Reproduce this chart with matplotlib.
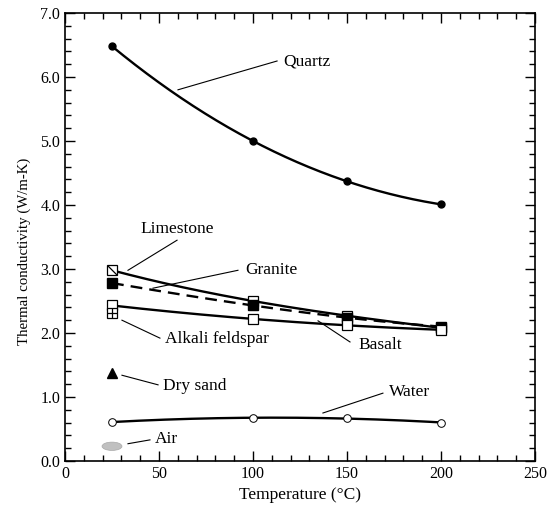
import numpy as np
import matplotlib
matplotlib.use("Agg")
import matplotlib.pyplot as plt
from matplotlib.patches import Ellipse
from matplotlib.ticker import MultipleLocator, FormatStrFormatter
from matplotlib.path import Path

plt.rcParams['font.family'] = ['Liberation Serif', 'DejaVu Serif']

temps = [25, 100, 150, 200]
quartz = [6.48, 5.00, 4.37, 4.01]
limestone = [2.98, 2.50, 2.27, 2.08]
granite = [2.78, 2.43, 2.24, 2.10]
basalt = [2.43, 2.22, 2.12, 2.05]
water = [0.61, 0.67, 0.67, 0.60]
feldspar_t, feldspar_k = [25], [2.32]
drysand_t, drysand_k = [25], [1.37]
air_t, air_k = [25], [0.23]

fig = plt.figure(figsize=(5.58, 5.08), dpi=100)
ax = fig.add_axes([65 / 558, 47 / 508, 470 / 558, 448 / 508])

def smooth(x, y, deg=3):
    c = np.polyfit(x, y, deg)
    xs = np.linspace(min(x), max(x), 200)
    return xs, np.polyval(c, xs)

lw = 1.7
ms_sq = 6.5
# Quartz
xs, ys = smooth(temps, quartz)
ax.plot(xs, ys, color='black', lw=lw, zorder=2)
ax.plot(temps, quartz, 'o', color='black', ms=5, zorder=3)
# Limestone
xs, ys = smooth(temps, limestone)
ax.plot(xs, ys, color='black', lw=lw, zorder=2)
ax.plot(temps, limestone, 's', mfc='white', mec='black', mew=0.9, ms=ms_sq, zorder=3)
diag = Path([(-1, 1), (1, -1)], [Path.MOVETO, Path.LINETO])
ax.plot(temps[:1], limestone[:1], marker=diag, color='black', mew=0.9, ms=ms_sq, ls='none', zorder=4)
# Granite
xs, ys = smooth(temps, granite)
ax.plot(xs, ys, color='black', lw=lw, ls=(0, (5, 3)), zorder=2)
ax.plot(temps, granite, 's', color='black', ms=ms_sq, zorder=3)
# Basalt
xs, ys = smooth(temps, basalt)
ax.plot(xs, ys, color='black', lw=lw, zorder=2)
ax.plot(temps, basalt, 's', mfc='white', mec='black', mew=0.9, ms=ms_sq, zorder=3)
# Alkali feldspar
ax.plot(feldspar_t, feldspar_k, 's', mfc='white', mec='black', mew=0.9, ms=ms_sq, zorder=4)
ax.plot(feldspar_t, feldspar_k, '+', color='black', mew=0.9, ms=ms_sq, zorder=5)
# Dry sand
ax.plot(drysand_t, drysand_k, '^', color='black', ms=7, zorder=3)
# Water
xs, ys = smooth(temps, water, 2)
ax.plot(xs, ys, color='black', lw=lw, zorder=2)
ax.plot(temps, water, 'o', mfc='white', mec='black', mew=0.7, ms=5.5, zorder=3)
# Air
ax.add_patch(Ellipse((air_t[0], air_k[0]), 10.6, 0.13, facecolor='#c0c0c0',
                     edgecolor='#a8a8a8', lw=0.5, zorder=3))

fs = 12.5
# (label, leader start, leader end, text position, ha, va)
labels = [
    ("Quartz", (60.1, 5.80), (112.8, 6.25), (116.0, 6.25), 'left', 'center'),
    ("Limestone", (33.5, 2.98), (59.6, 3.45), (59.6, 3.62), 'center', 'center'),
    ("Granite", (46.8, 2.70), (92.0, 2.98), (95.7, 2.98), 'left', 'center'),
    ("Alkali feldspar", (30.3, 2.20), (50.5, 1.92), (53.2, 1.91), 'left', 'center'),
    ("Basalt", (134.6, 2.19), (151.6, 1.86), (155.9, 1.81), 'left', 'center'),
    ("Dry sand", (30.3, 1.34), (49.5, 1.19), (52.1, 1.17), 'left', 'center'),
    ("Water", (137.2, 0.75), (169.1, 1.06), (172.3, 1.08), 'left', 'center'),
    ("Air", (33.5, 0.27), (45.2, 0.33), (47.9, 0.34), 'left', 'center'),
]
for txt, p0, p1, pt, ha, va in labels:
    ax.plot([p0[0], p1[0]], [p0[1], p1[1]], color='black', lw=0.8, zorder=2)
    ax.text(pt[0], pt[1], txt, ha=ha, va=va, fontsize=fs)

ax.set_xlim(0, 250)
ax.set_ylim(0, 7.0)
ax.xaxis.set_major_locator(MultipleLocator(50))
ax.xaxis.set_minor_locator(MultipleLocator(10))
ax.yaxis.set_major_locator(MultipleLocator(1.0))
ax.yaxis.set_minor_locator(MultipleLocator(0.2))
ax.yaxis.set_major_formatter(FormatStrFormatter('%.1f'))
ax.tick_params(which='both', direction='in', top=True, right=True, labelsize=11.5, width=1.0)
ax.tick_params(which='major', length=7)
ax.tick_params(which='minor', length=4)
for s in ax.spines.values():
    s.set_linewidth(1.2)
ax.set_xlabel("Temperature (°C)", fontsize=12.5)
ax.set_ylabel("Thermal conductivity (W/m-K)", fontsize=10.7)
ax.yaxis.set_label_coords(-0.072, 0.469)

fig.savefig("out.png", dpi=100)
